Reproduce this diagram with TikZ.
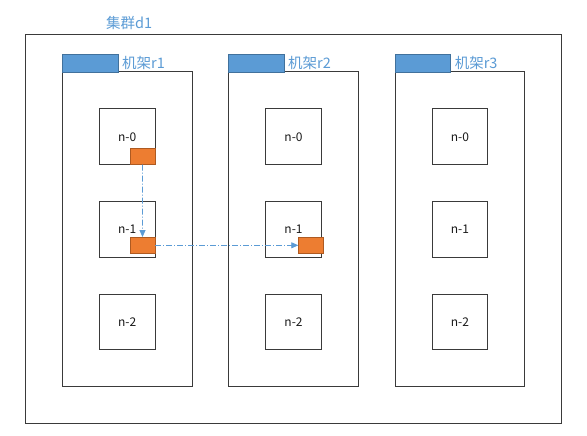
\documentclass[tikz,border=0pt]{standalone}
\usepackage{fontspec}
\setmainfont{Noto Sans CJK SC}
\usetikzlibrary{arrows.meta,positioning}
\definecolor{boxline}{HTML}{3A3A3A}
\definecolor{tabblue}{HTML}{5B9BD5}
\definecolor{tabedge}{HTML}{41719C}
\definecolor{orangefill}{HTML}{ED7D31}
\definecolor{orangeedge}{HTML}{AE5A21}
\definecolor{labelblue}{HTML}{5B9BD5}
\tikzset{
  frame/.style={draw=boxline,line width=1pt,fill=white,inner sep=0pt,outer sep=0pt},
  rackbox/.style={frame,minimum width=129.5pt,minimum height=314.7pt},
  tabbox/.style={draw=tabedge,line width=0.9pt,fill=tabblue,inner sep=0pt,outer sep=0pt,minimum width=55.3pt,minimum height=18pt},
  nodebox/.style={frame,minimum width=55.7pt,minimum height=55.6pt,font=\fontsize{12}{14}\selectfont,text=black!90},
  portbox/.style={draw=orangeedge,line width=0.7pt,fill=orangefill,inner sep=0pt,outer sep=0pt,minimum width=25pt,minimum height=16.5pt},
  biglabel/.style={text=labelblue,font=\fontsize{14.5}{16}\selectfont,inner sep=0pt,anchor=west},
  flow/.style={draw=labelblue,line width=0.8pt,dash pattern=on 6pt off 2pt on 1pt off 2pt,-{Triangle[length=7pt,width=6pt]}}
}
\begin{document}
\begin{tikzpicture}[x=1pt,y=-1pt]
\useasboundingbox (0,0) rectangle (587,436);
% cluster
\node[frame,minimum width=536.4pt,minimum height=388.5pt] (cluster) at (293.5,229.25) {};
\node[biglabel] (clusterlabel) at (106,23) {集群d1};
% racks
\foreach \i/\x in {1/62.7,2/228.7,3/395.3}{
  \node[rackbox,anchor=north west] (rack\i) at (\x,72) {};
  \node[tabbox,anchor=south west] (tab\i) at (\x,72) {};
  \node[biglabel] (racklabel\i) at ([xshift=4pt]tab\i.east) {机架r\i};
}
% nodes
\foreach \i/\x in {1/99.3,2/265.7,3/432}{
  \node[nodebox,anchor=north west] (n\i-0) at (\x,109) {n-0};
  \node[nodebox,anchor=north west] (n\i-1) at (\x,201.7) {n-1};
  \node[nodebox,anchor=north west] (n\i-2) at (\x,294.2) {n-2};
}
% ports
\node[portbox,anchor=south east] (p10) at (n1-0.south east) {};
\node[portbox,anchor=west] (p11) at (130,245.3) {};
\node[portbox,anchor=west] (p21) at (298.3,245.3) {};
% flows
\draw[flow] (p10.south) -- (p11.north);
\draw[flow] (p11.east) -- (p21.west);
\end{tikzpicture}
\end{document}
